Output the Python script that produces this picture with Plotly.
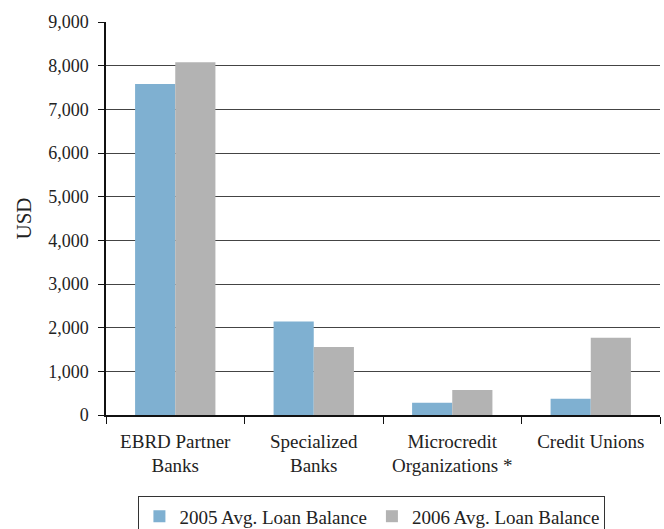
import plotly.graph_objects as go

categories = ["EBRD Partner<br>Banks", "Specialized<br>Banks", "Microcredit<br>Organizations *", "Credit Unions"]
balance_2005 = [7580, 2140, 280, 370]
balance_2006 = [8080, 1560, 570, 1770]
y_ticks = [0, 1000, 2000, 3000, 4000, 5000, 6000, 7000, 8000, 9000]

font_family = "Liberation Serif, DejaVu Serif, serif"

fig = go.Figure()
fig.add_trace(go.Bar(name="2005 Avg. Loan Balance", x=categories, y=balance_2005,
                     marker=dict(color="#7fb0d1", line=dict(width=0))))
fig.add_trace(go.Bar(name="2006 Avg. Loan Balance", x=categories, y=balance_2006,
                     marker=dict(color="#b3b3b3", line=dict(width=0))))

fig.update_layout(
    width=664, height=529,
    margin=dict(l=106, r=4, t=22, b=114, autoexpand=False),
    paper_bgcolor="white", plot_bgcolor="white",
    barmode="group", bargap=0.42, bargroupgap=0,
    font=dict(family=font_family, size=18, color="#222"),
    showlegend=True,
    legend=dict(orientation="h", x=0.48, xanchor="center", y=-0.207, yanchor="top",
                bordercolor="#333", borderwidth=1, font=dict(size=19),
                itemwidth=30, tracegroupgap=0),
    xaxis=dict(showline=True, linecolor="#111", linewidth=1.5,
               ticks="outside", tickson="boundaries", ticklen=7, tickcolor="#111",
               tickfont=dict(size=19), ticklabelstandoff=8, showgrid=False),
    yaxis=dict(range=[0, 9000], tickvals=y_ticks, tickformat=",d",
               showline=True, linecolor="#111", linewidth=1.5,
               ticks="outside", ticklen=6, tickcolor="#111",
               showgrid=True, gridcolor="#444", gridwidth=1.2,
               tickfont=dict(size=18), ticklabelstandoff=6, zeroline=False,
               title=dict(text="USD", font=dict(size=21), standoff=11)),
)

fig.write_html("out.html")
